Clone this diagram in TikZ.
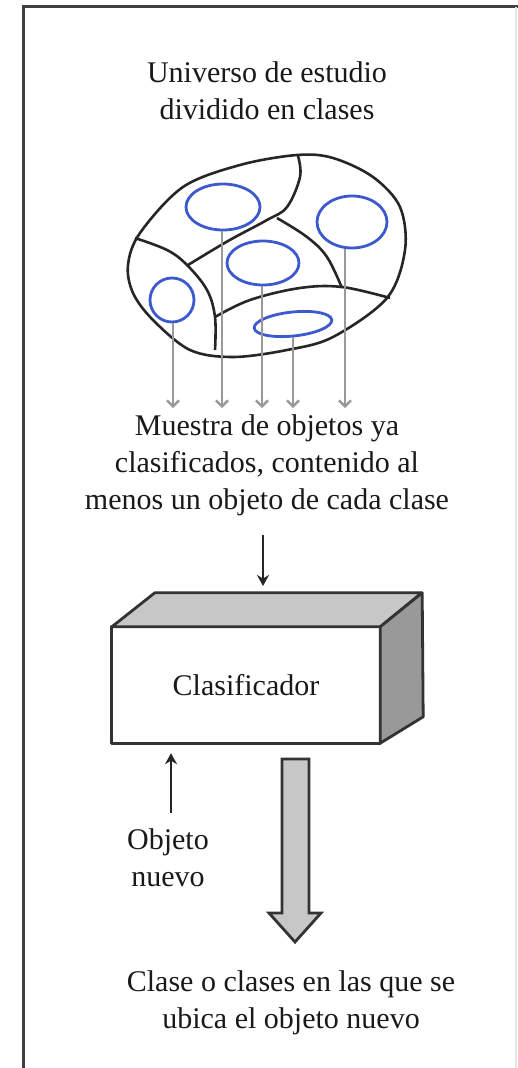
\documentclass[tikz,border=0pt]{standalone}
\usepackage{fontspec}
\setmainfont{Liberation Serif}
\usetikzlibrary{arrows.meta,shapes.geometric}
\definecolor{clsblue}{RGB}{60,90,205}
\begin{document}
\begin{tikzpicture}[x=1pt,y=-1pt,
  lbl/.style={font=\rmfamily\fontsize{30}{37}\selectfont, align=center, inner sep=0pt, text=black!90},
  cls/.style={draw=clsblue, line width=2.8pt, ellipse, inner sep=0pt},
  part/.style={line width=2.6pt, draw=black!85, line join=round},
  feed/.style={draw=gray!80, line width=2.6pt, -{Straight Barb[length=6pt,width=12pt,line width=2.4pt]}},
  arr/.style={draw=black!85, line width=2.2pt, -{Stealth[length=11pt,width=12pt]}},
  face/.style={draw=black!80, line width=2.8pt, line join=round},
  frameline/.style={draw=black!75, line width=3pt}]
\useasboundingbox (0,0) rectangle (518,1068);
% frame
\draw[frameline] (23,1068) -- (23,6) -- (518,6);
\draw[gray!20, line width=1.5pt] (516,7) -- (516,1068);

\node[lbl] (univ) at (267,91) {Universo de estudio\\dividido en clases};

% universe blob
\draw[part] plot[smooth cycle, tension=0.55] coordinates {(297,155) (240,165) (183,187) (140,233) (128,265) (133,293) (153,320) (190,350) (233,357) (287,350) (333,337) (387,298) (405,250) (400,207) (373,177) (333,158)};
\draw[part] plot[smooth, tension=0.6] coordinates {(298,156) (300,177) (287,207) (267,220) (228,241) (188,265)};
\draw[part] plot[smooth, tension=0.6] coordinates {(277,218) (307,237) (327,257) (342,288)};
\draw[part] plot[smooth, tension=0.6] coordinates {(135,238) (167,250) (187,265) (207,290) (215,317) (215,350)};
\draw[part] plot[smooth, tension=0.6] coordinates {(215,317) (250,300) (300,288) (342,287) (390,298)};

% classes
\node[cls, minimum width=74pt, minimum height=46pt] (e1) at (223,207) {};
\node[cls, minimum width=70pt, minimum height=52pt] (e2) at (352,222) {};
\node[cls, minimum width=72pt, minimum height=44pt] (e3) at (263,263) {};
\node[cls, minimum width=44pt, minimum height=44pt] (e4) at (172,300) {};
\node[cls, minimum width=78pt, minimum height=24pt, rotate=6] (e5) at (293,324) {};

\coordinate (t4) at (173,408);
\coordinate (t1) at (222,408);
\coordinate (t3) at (262,408);
\coordinate (t5) at (293,408);
\coordinate (t2) at (345,408);
\draw[feed] (e4.south -| t4) -- (t4);
\draw[feed] (e1.south -| t1) -- (t1);
\draw[feed] (e3.south -| t3) -- (t3);
\draw[feed] (e5.south -| t5) -- (t5);
\draw[feed] (e2.south -| t2) -- (t2);

\node[lbl] (muestra) at (267,465) {Muestra de objetos ya\\clasificados, contenido al\\menos un objeto de cada clase};

% classifier box
\node[lbl, minimum width=268pt, minimum height=116pt] (clasif) at (246,685) {Clasificador};
\draw[face] (clasif.north west) rectangle (clasif.south east);
\draw[face, fill=black!22] (clasif.north west) -- ++(43,-34) -- ++(267,0) -- (clasif.north east) -- cycle;
\draw[face, fill=black!40] (clasif.north east) -- ++(42,-34) -- ++(1,124) -- (clasif.south east) -- cycle;

\coordinate (m2) at (263,586);
\draw[arr, shorten <=19pt] (muestra.south -| m2) -- (m2);

\node[lbl] (obj) at (168,858) {Objeto\\nuevo};
\coordinate (o1) at (171,813);
\draw[arr, shorten >=10pt] (o1) -- (clasif.south -| o1);

% output block arrow
\draw[face, fill=black!22, line join=miter] (282,759) -- (309,759) -- (309,913) -- (321,913) -- (295,942) -- (269,913) -- (282,913) -- cycle;

\node[lbl] (clase) at (291,1003) {Clase o clases en las que se\\ubica el objeto nuevo};
\end{tikzpicture}
\end{document}
